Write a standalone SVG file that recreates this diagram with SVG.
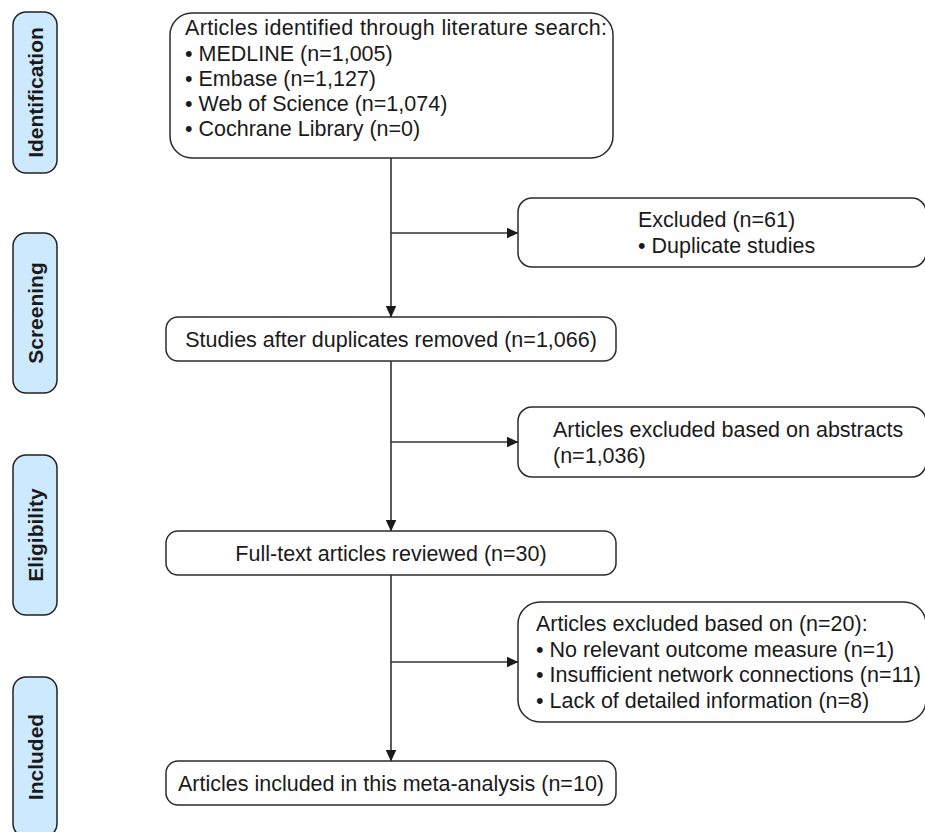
<svg xmlns="http://www.w3.org/2000/svg" width="925" height="832" viewBox="0 0 925 832">
  <style>
    .box { fill: #ffffff; stroke: #2b2b2b; stroke-width: 1.5; }
    .side { fill: #cde9fd; stroke: #222222; stroke-width: 1.5; }
    .t { font-family: "Liberation Sans", Arial, sans-serif; font-size: 21.5px; fill: #1a1a1a; }
    .st { font-family: "Liberation Sans", Arial, sans-serif; font-size: 21px; font-weight: bold; fill: #1a1a1a; }
    .c { stroke: #333333; stroke-width: 1.6; fill: none; }
  </style>
  <defs>
    <marker id="arr" markerWidth="12" markerHeight="11" refX="11.5" refY="5.5" orient="auto" markerUnits="userSpaceOnUse">
      <path d="M0,0 L12,5.5 L0,11 Z" fill="#1a1a1a"/>
    </marker>
  </defs>
  <rect width="925" height="832" fill="#ffffff"/>

  <g id="stage-identification">
    <rect class="side" x="13" y="12" width="44" height="161" rx="13"/>
    <text class="st" transform="translate(42.5,92.5) rotate(-90)" text-anchor="middle">Identification</text>
  </g>
  <g id="stage-screening">
    <rect class="side" x="13" y="233" width="44" height="160" rx="13"/>
    <text class="st" transform="translate(42.5,313) rotate(-90)" text-anchor="middle">Screening</text>
  </g>
  <g id="stage-eligibility">
    <rect class="side" x="13" y="455" width="44" height="160" rx="13"/>
    <text class="st" transform="translate(42.5,535) rotate(-90)" text-anchor="middle">Eligibility</text>
  </g>
  <g id="stage-included">
    <rect class="side" x="13" y="677" width="44" height="160" rx="13"/>
    <text class="st" transform="translate(42.5,757) rotate(-90)" text-anchor="middle">Included</text>
  </g>

  <g id="connectors">
    <line class="c" x1="391" y1="158" x2="391" y2="317" marker-end="url(#arr)"/>
    <line class="c" x1="391" y1="233" x2="518" y2="233" marker-end="url(#arr)"/>
    <line class="c" x1="391" y1="361" x2="391" y2="531" marker-end="url(#arr)"/>
    <line class="c" x1="391" y1="442" x2="518" y2="442" marker-end="url(#arr)"/>
    <line class="c" x1="391" y1="575" x2="391" y2="761" marker-end="url(#arr)"/>
    <line class="c" x1="391" y1="662" x2="518" y2="662" marker-end="url(#arr)"/>
  </g>

  <g id="identified">
    <rect class="box" x="170" y="13" width="443" height="145" rx="22"/>
    <text class="t" x="185" y="35" textLength="422" lengthAdjust="spacing">Articles identified through literature search:</text>
    <text class="t" x="185" y="60.5">• MEDLINE (n=1,005)</text>
    <text class="t" x="185" y="86">• Embase (n=1,127)</text>
    <text class="t" x="185" y="111">• Web of Science (n=1,074)</text>
    <text class="t" x="185" y="136">• Cochrane Library (n=0)</text>
  </g>

  <g id="excluded-duplicates">
    <rect class="box" x="518" y="198" width="408" height="69" rx="14"/>
    <text class="t" x="638" y="227">Excluded (n=61)</text>
    <text class="t" x="638" y="253">• Duplicate studies</text>
  </g>

  <g id="after-duplicates">
    <rect class="box" x="166" y="317" width="450" height="44" rx="12"/>
    <text class="t" x="391" y="346.5" text-anchor="middle">Studies after duplicates removed (n=1,066)</text>
  </g>

  <g id="excluded-abstracts">
    <rect class="box" x="518" y="407" width="408" height="70" rx="14"/>
    <text class="t" x="553" y="436.5">Articles excluded based on abstracts</text>
    <text class="t" x="553" y="462.5">(n=1,036)</text>
  </g>

  <g id="full-text">
    <rect class="box" x="166" y="531" width="450" height="44" rx="12"/>
    <text class="t" x="391" y="560.5" text-anchor="middle">Full-text articles reviewed (n=30)</text>
  </g>

  <g id="excluded-fulltext">
    <rect class="box" x="518" y="602" width="408" height="120" rx="22"/>
    <text class="t" x="536" y="631">Articles excluded based on (n=20):</text>
    <text class="t" x="536" y="656.5">• No relevant outcome measure (n=1)</text>
    <text class="t" x="536" y="682">• Insufficient network connections (n=11)</text>
    <text class="t" x="536" y="707.5">• Lack of detailed information (n=8)</text>
  </g>

  <g id="included">
    <rect class="box" x="166" y="761" width="450" height="44" rx="12"/>
    <text class="t" x="391" y="790.5" text-anchor="middle">Articles included in this meta-analysis (n=10)</text>
  </g>
</svg>
